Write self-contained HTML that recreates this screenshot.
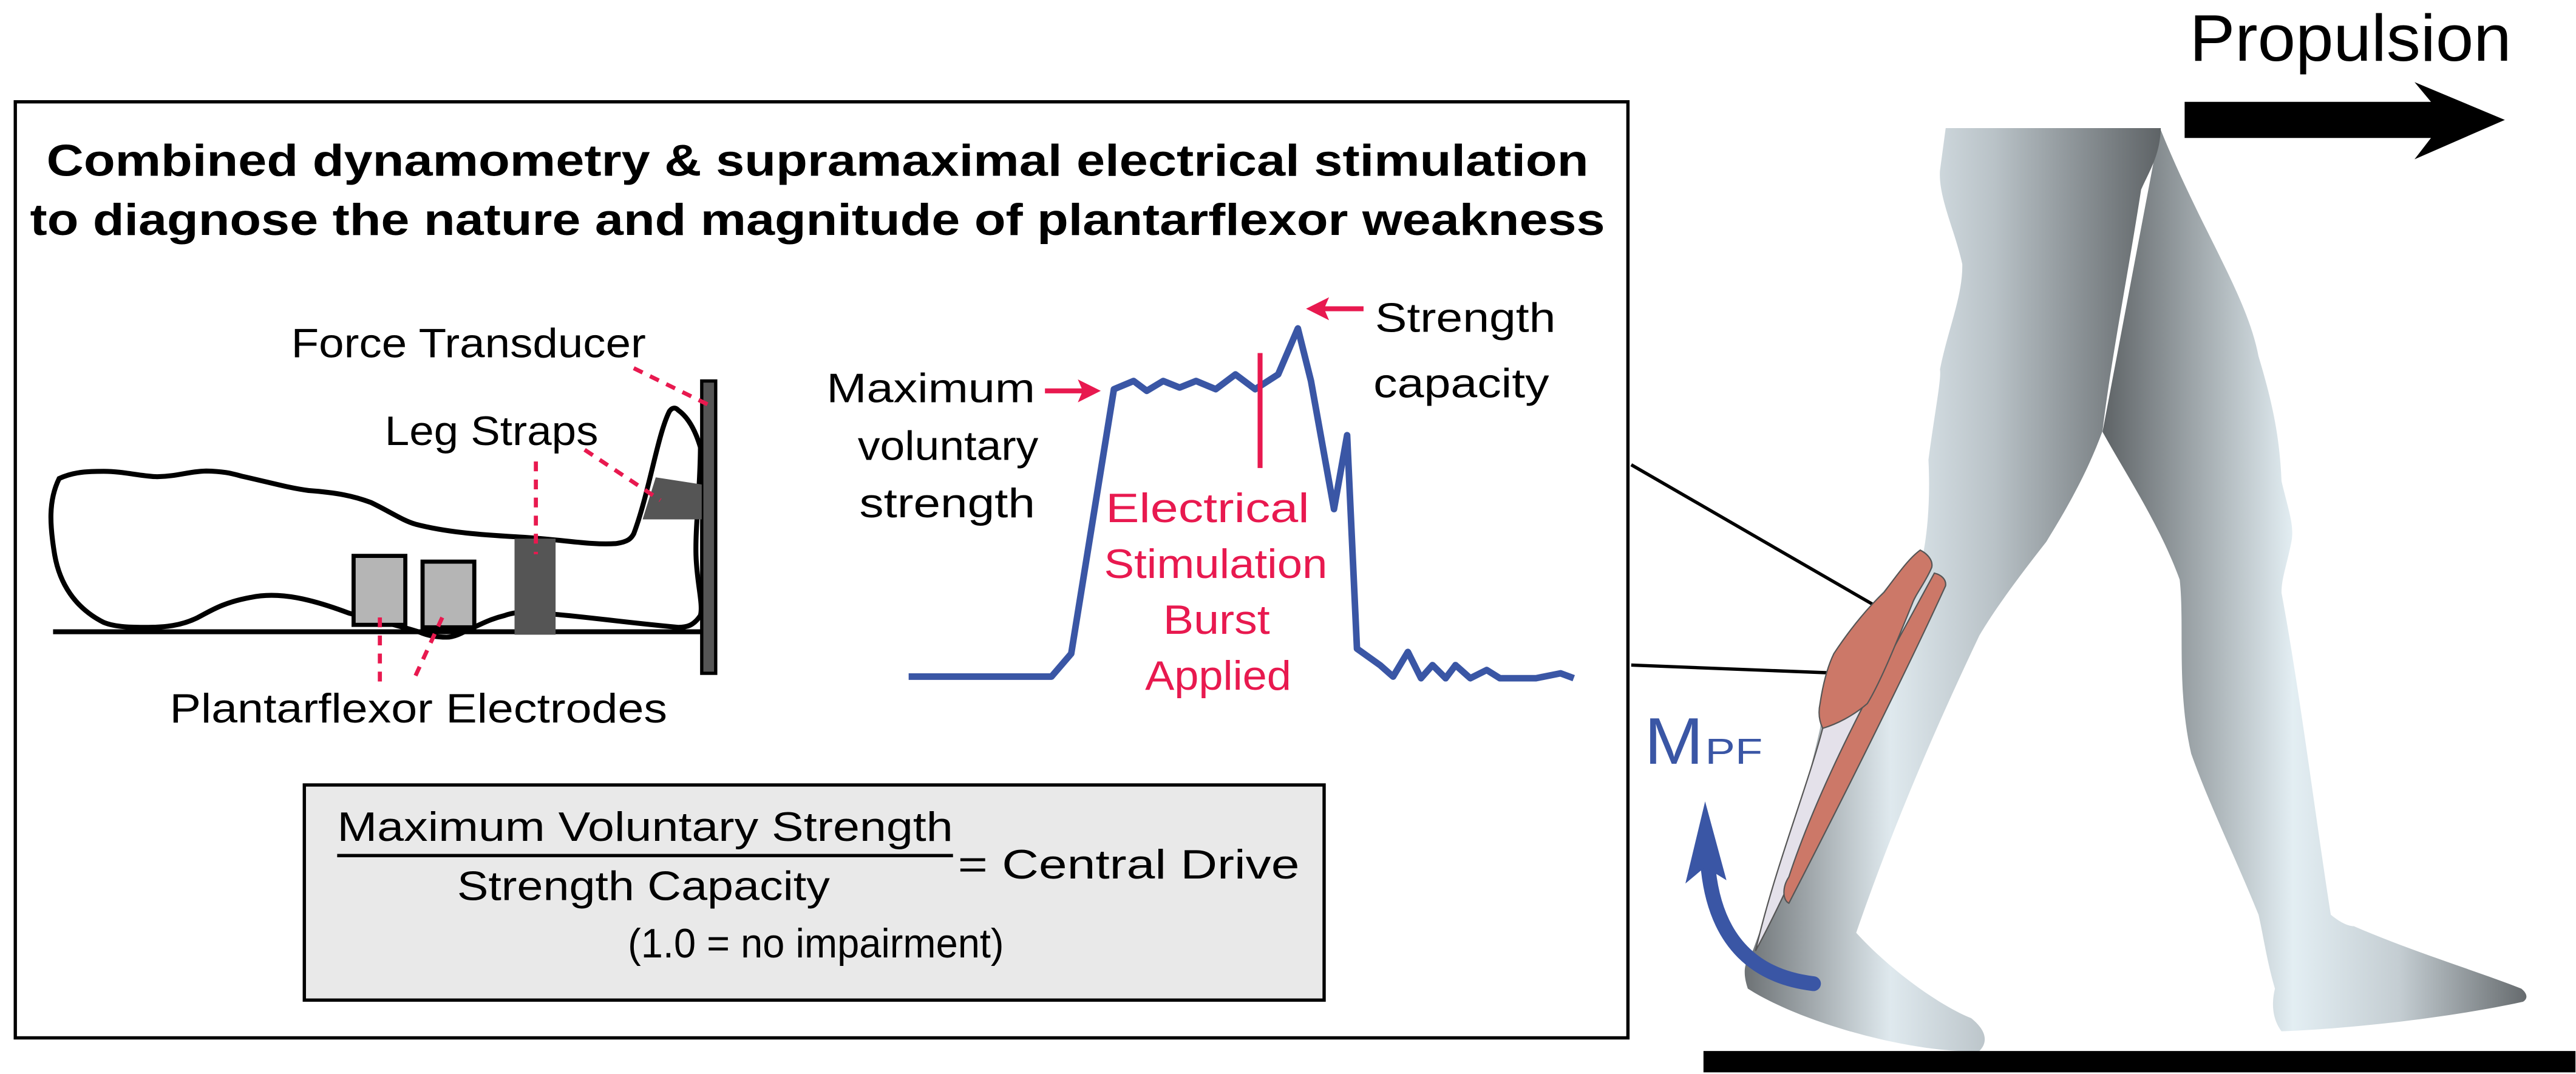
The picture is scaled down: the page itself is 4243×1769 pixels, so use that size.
<!DOCTYPE html>
<html><head><meta charset="utf-8"><style>
html,body{margin:0;padding:0;background:#fff;}
svg{display:block;}
text{font-family:"Liberation Sans",sans-serif;}
</style></head><body>
<svg width="4243" height="1769" viewBox="0 0 1568 654" xmlns="http://www.w3.org/2000/svg">
<defs>
<linearGradient id="lg" x1="0" y1="0" x2="1" y2="0">
<stop offset="0" stop-color="#6d7275"/><stop offset="0.35" stop-color="#dfe9ee"/><stop offset="0.6" stop-color="#b9c2c7"/><stop offset="1" stop-color="#5e6366"/>
</linearGradient>
<linearGradient id="lg2" x1="0" y1="0" x2="1" y2="0">
<stop offset="0" stop-color="#5e6366"/><stop offset="0.45" stop-color="#e3eef3"/><stop offset="0.7" stop-color="#c4cdd2"/><stop offset="1" stop-color="#666b6e"/>
</linearGradient>
</defs>

<!-- Propulsion -->
<text x="1333" y="37" font-size="40" textLength="196" lengthAdjust="spacingAndGlyphs">Propulsion</text>
<polygon points="1330,62 1480,62 1470,50 1525,73 1470,97 1480,84 1330,84" fill="#000"/>

<!-- main box -->
<rect x="9" y="62" width="982" height="570" fill="#fff" stroke="#000" stroke-width="2"/>
<text x="28" y="107" font-size="27" font-weight="bold" textLength="939" lengthAdjust="spacingAndGlyphs">Combined dynamometry &amp; supramaximal electrical stimulation</text>
<text x="18" y="143" font-size="27" font-weight="bold" textLength="959" lengthAdjust="spacingAndGlyphs">to diagnose the nature and magnitude of plantarflexor weakness</text>

<!-- leg diagram -->
<path d="M35.7,291.4 C45,287 55,287 62.8,287 C75,287 85,290 95.4,290.3 C108,290 115,287 125.2,286.8 C135,287 140,288 147,290 C165,294 175,297 187.6,298.7 C205,300 215,302 225.6,306 C238,312 245,317 252.7,319.2 C275,325 300,326 320.5,327.3 C345,329 360,332 374.7,331 C382,330 384,328 385.6,325 C395,300 400,265 407.3,250.5 C409,248 411,248 412.7,249.8 C420,255 424,265 426.2,272.4 C426,300 423,320 423.5,338.2 C424,355 428,368 426.2,374.8 C422,381 418,382 412.7,382 C380,379 360,376 336.8,374 C325,372 315,372 307,374.8 C298,377 293,380 288,382 C280,386 276,388 271.7,388 C265,388 260,387 255.4,385 C240,380 225,377 212,373.3 C190,365 170,360 152.3,363.8 C135,367 128,372 119.8,376.2 C110,381 100,382 90,382 C80,382 70,382 62.8,379 C45,370 36,355 33,338 C30,320 29,305 35.7,291.4 Z" fill="#fff" stroke="#000" stroke-width="3"/>
<line x1="32" y1="384.7" x2="433" y2="384.7" stroke="#000" stroke-width="3"/>
<rect x="427" y="232" width="8.5" height="178" fill="#555" stroke="#000" stroke-width="2"/>
<rect x="215" y="338.5" width="31.5" height="42" fill="#b5b5b5" stroke="#000" stroke-width="2.5"/>
<rect x="257" y="342" width="31.5" height="40" fill="#b5b5b5" stroke="#000" stroke-width="2.5"/>
<rect x="313" y="328" width="25" height="58.5" fill="#555"/>
<polygon points="399,290.7 427,295 427,316.3 391,316.3" fill="#555"/>
<g stroke="#e8194f" stroke-width="2.5" stroke-dasharray="6,5" fill="none">
<line x1="385.6" y1="224.2" x2="431.7" y2="246.8"/>
<line x1="326" y1="281" x2="326" y2="337.5"/>
<line x1="355.7" y1="273.9" x2="401.8" y2="304.6"/>
<line x1="231" y1="376" x2="231" y2="415"/>
<line x1="269" y1="376" x2="252" y2="413"/>
</g>
<text x="177" y="217.6" font-size="25" textLength="216" lengthAdjust="spacingAndGlyphs">Force Transducer</text>
<text x="234" y="271" font-size="25" textLength="130" lengthAdjust="spacingAndGlyphs">Leg Straps</text>
<text x="103" y="440" font-size="25" textLength="303" lengthAdjust="spacingAndGlyphs">Plantarflexor Electrodes</text>

<!-- graph -->
<polyline points="553,412 640,412 652,398 678,237 690,232 698,238 708,232 718,236 728,232 740,237 752,228 764,237 778,228 790,200 798,232 812,310 820,265 826,395 840,405 848,412 857,397 865,413 872,405 880,413 886,405 895,413 905,408 913,413 935,413 950,410 958,413" fill="none" stroke="#3a56a5" stroke-width="4" stroke-linejoin="round"/>
<line x1="767" y1="215" x2="767" y2="285" stroke="#e8194f" stroke-width="3"/>
<line x1="636" y1="238" x2="660" y2="238" stroke="#e8194f" stroke-width="3"/>
<polygon points="670,238 656,231 659,238 656,245" fill="#e8194f"/>
<line x1="830" y1="188" x2="805" y2="188" stroke="#e8194f" stroke-width="3"/>
<polygon points="795,188 809,181 806,188 809,195" fill="#e8194f"/>
<text x="503" y="245" font-size="25" textLength="127" lengthAdjust="spacingAndGlyphs">Maximum</text>
<text x="522" y="280" font-size="25" textLength="110" lengthAdjust="spacingAndGlyphs">voluntary</text>
<text x="523" y="315" font-size="25" textLength="107" lengthAdjust="spacingAndGlyphs">strength</text>
<text x="837" y="202" font-size="25" textLength="110" lengthAdjust="spacingAndGlyphs">Strength</text>
<text x="836" y="242" font-size="25" textLength="107" lengthAdjust="spacingAndGlyphs">capacity</text>
<g fill="#e8194f" font-size="25">
<text x="673" y="318" textLength="124" lengthAdjust="spacingAndGlyphs">Electrical</text>
<text x="672" y="352" textLength="136" lengthAdjust="spacingAndGlyphs">Stimulation</text>
<text x="708" y="386" textLength="65" lengthAdjust="spacingAndGlyphs">Burst</text>
<text x="697" y="420" textLength="89" lengthAdjust="spacingAndGlyphs">Applied</text>
</g>

<!-- formula box -->
<rect x="185" y="478" width="621" height="131" fill="#e9e9e9" stroke="#000" stroke-width="2"/>
<text x="205" y="512" font-size="25" textLength="375" lengthAdjust="spacingAndGlyphs">Maximum Voluntary Strength</text>
<line x1="205" y1="521" x2="580" y2="521" stroke="#000" stroke-width="2"/>
<text x="278" y="548" font-size="25" textLength="227" lengthAdjust="spacingAndGlyphs">Strength Capacity</text>
<text x="583" y="535" font-size="25" textLength="208" lengthAdjust="spacingAndGlyphs">= Central Drive</text>
<text x="382" y="583" font-size="25" textLength="229" lengthAdjust="spacingAndGlyphs">(1.0 = no impairment)</text>

<!-- connector lines -->
<line x1="993" y1="283" x2="1147" y2="372" stroke="#000" stroke-width="2"/>
<line x1="993" y1="405" x2="1121" y2="410" stroke="#000" stroke-width="2"/>

<!-- back leg -->
<path d="M1315,78 C1340,140 1368,180 1375,217 C1385,250 1388,270 1389,293 C1393,310 1397,320 1395,330 C1392,345 1389,352 1389,361 C1400,420 1410,500 1419,557 C1425,562 1430,564 1433,564 C1470,580 1510,592 1535,602 C1540,606 1538,609 1536,610 C1500,618 1440,626 1389,628 C1383,620 1383,610 1385,602 C1380,585 1378,570 1375,557 C1360,520 1345,490 1334,459 C1325,420 1330,380 1327,353 C1315,320 1295,290 1280,263 Z" fill="url(#lg2)"/>
<!-- front leg -->
<path d="M1184.5,78 L1315.5,78 C1315,95 1308,105 1303.5,115.5 C1295,170 1285,220 1280,262.5 C1270,290 1255,315 1245.7,330 C1230,350 1215,370 1205,387 C1175,450 1150,510 1130,568 C1150,590 1180,612 1200,620 C1210,628 1210,635 1205,640 C1170,642 1100,625 1064,602 C1060,590 1063,585 1067,579 C1085,530 1100,480 1108,443.5 C1112,420 1114,410 1116.4,398 C1135,370 1160,345 1171,336 C1174,320 1175,300 1174,280 C1178,250 1182,230 1181,225 C1186,200 1195,180 1194.6,160.8 C1190,140 1180,120 1181,104 Z" fill="url(#lg)"/>
<!-- muscles -->
<path d="M1109.6,443.5 L1136.8,428.4 C1115,480 1090,540 1068.7,579 C1080,530 1100,480 1109.6,443.5 Z" fill="#e4e1ea" stroke="#555" stroke-width="0.8"/>
<path d="M1177.6,349 C1182,350 1185,353 1184.4,356.8 C1160,410 1120,490 1089,550 C1085,548 1085,540 1089,534 C1110,470 1150,400 1177.6,349 Z" fill="#cc7868" stroke="#555" stroke-width="0.8"/>
<path d="M1169,335 C1173,337 1177,341 1176,345.5 C1172,355 1166,362 1164,368 C1155,390 1145,415 1136.8,428.4 C1128,436 1118,441 1109.6,443.5 C1107,438 1107,433 1108,428.4 C1110,415 1113,405 1116.4,398 C1125,385 1135,372 1147,360.6 C1155,350 1162,340 1169,335 Z" fill="#cc7868" stroke="#555" stroke-width="0.8"/>

<!-- M_PF -->
<text x="1001" y="465" font-size="40" fill="#3a56a5" textLength="36" lengthAdjust="spacingAndGlyphs">M</text>
<text x="1038" y="465" font-size="22" fill="#3a56a5" textLength="35" lengthAdjust="spacingAndGlyphs">PF</text>
<path d="M1104,599 C1070,595 1045,575 1040,530" fill="none" stroke="#3a56a5" stroke-width="9" stroke-linecap="round"/>
<polygon points="1038,488 1026,538 1038,528 1051,536" fill="#3a56a5"/>

<!-- ground -->
<rect x="1037" y="640" width="531" height="13" fill="#000"/>
</svg>
</body></html>
